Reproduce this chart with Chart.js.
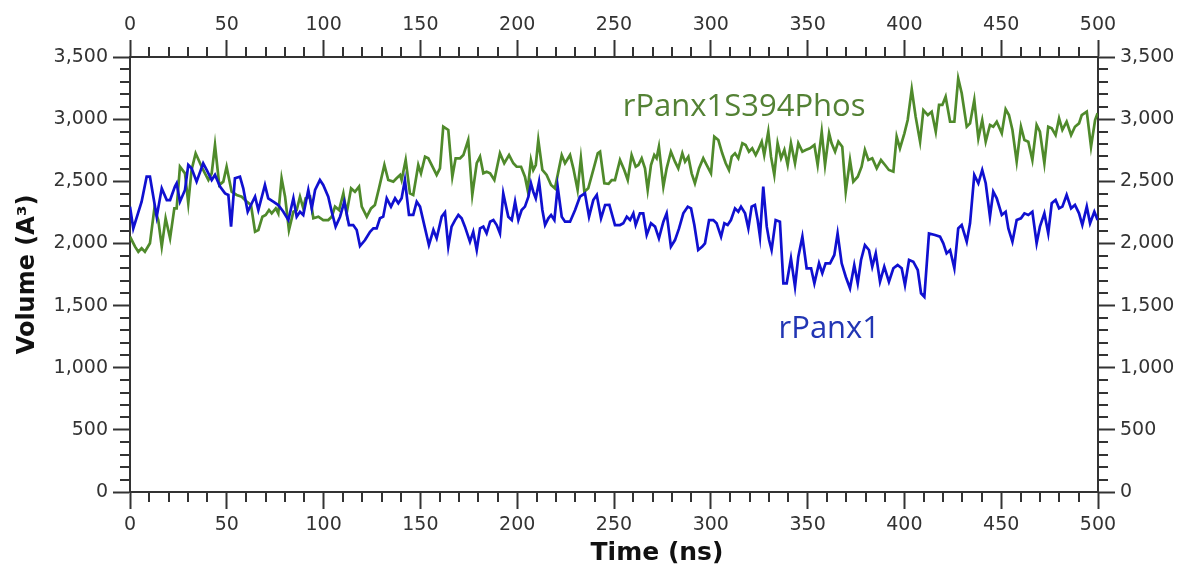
<!DOCTYPE html>
<html>
<head>
<meta charset="utf-8">
<script src="https://cdn.jsdelivr.net/npm/chart.js@4.4.1/dist/chart.umd.min.js"></script>
<style>
  html, body { margin: 0; padding: 0; background: #fff; }
  #wrap { width: 1181px; height: 569px; }
</style>
</head>
<body>
<div id="wrap"><canvas id="volume-chart"></canvas></div>
<script>
// rPanx1 (blue) - time in ns, volume in A^3
const rpanxTime = [0, 1.7, 6, 8.6, 10.3, 13.8, 16.4, 19, 20.7, 23.2, 24.1, 25.8, 28.4, 30.1, 31.8, 34.4, 37.8, 39.6, 42.2, 43.9, 46.5, 49.1, 50.8, 52.2, 54.2, 56.8, 58.5, 60.8, 62.9, 64.6, 66.3, 69.7, 71.4, 74, 76.6, 79.2, 81.8,
  84.4, 86.1, 87.8, 89.5, 92.1, 93.9, 95.6, 98.1, 99.8, 102.4, 104.2, 106.2, 108.5, 110.7, 113.1, 115.3, 117.1, 118.8, 121.4, 124, 125.7, 127.4, 129.1, 130.8, 132.6, 134.8, 136.9, 138.6, 140.3, 142, 144.1, 146.3, 148.1, 149.8, 152.4, 154.4, 156.7, 158.4, 161, 162.7, 164.4,
  166.1, 167.9, 169.6, 171.3, 173, 175.6, 177.3, 179.1, 180.8, 182.5, 184.2, 186, 187.7, 189.4, 191.1, 192.8, 195.4, 197.2, 198.9, 200.6, 202.3, 204, 205.8, 207.1, 208.3, 209.6, 211.3, 213, 214.4, 216.1, 217.5, 219.2, 220.9, 223, 224.7, 227.3, 229.9, 232.4, 235, 237.1, 239.3, 241.1, 243.3, 245.4, 247.6,
  250.5, 253.1, 254.8, 256.6, 258.3, 260, 261.2, 263.4, 265.1, 266.9, 269.1, 271.2, 273.2, 275.5, 277.2, 279.4, 281.5, 283.6, 285.8, 288.1, 289.8, 291.5, 293.5, 295.6, 297, 299.1, 301.3, 303, 305.3, 307, 308.7, 310.4, 312.5, 314.2, 315.6, 317.7, 319.4, 321.1, 322.8, 324.2, 325.4, 327.1, 328.9, 330.1,
  331.4, 333.5, 335.7, 337.5, 339.2, 341.4, 343.5, 345.2, 347.3, 349.5, 351.8, 353.5, 355.9, 357.6, 359.3, 361.6, 363.8, 365.5, 367.6, 369.7, 371.9, 374.1, 375.9, 377.6, 379.6, 381.7, 383.4, 385.2, 387.4, 389.6, 392, 394.3, 396.5, 398.6, 400.3, 402.4, 404.6, 406.9, 408.6, 410.3, 412.7,
  415.8, 418.4, 420.1, 421.8, 423.6, 425.8, 427.8, 429.6, 432.2, 433.9, 436.1, 438.2, 440.2, 442, 444.2, 445.9, 447.7, 450.3, 452.3, 453.7, 455.8, 458, 460.2, 462, 464, 466.1, 468.3, 470, 472.3, 474.3, 476.1, 478.1, 479.9, 481.6, 483.8, 486.1, 488.1, 490.2, 491.9, 494.2, 495.9, 498.1, 499.8];
const rpanxVolume = [2296, 2121, 2336, 2537, 2537, 2215, 2443, 2349, 2349, 2457, 2484, 2336, 2430, 2631, 2604, 2497, 2645, 2591, 2510, 2551, 2457, 2403, 2390, 2135, 2524, 2537, 2443, 2255, 2323, 2376, 2269, 2470, 2363, 2336, 2309, 2255, 2188,
  2363, 2215, 2255, 2229, 2430, 2282, 2430, 2510, 2470, 2376, 2255, 2135, 2215, 2336, 2148, 2148, 2108, 1979, 2027, 2094, 2121, 2121, 2202, 2215, 2363, 2296, 2363, 2323, 2363, 2510, 2229, 2229, 2336, 2296, 2121, 1987, 2108, 2041, 2215, 2250, 1974,
  2135, 2188, 2229, 2202, 2135, 2014, 2094, 1947, 2121, 2135, 2081, 2175, 2188, 2148, 2081, 2403, 2215, 2188, 2336, 2188, 2269, 2296, 2376, 2484, 2416, 2363, 2497, 2269, 2148, 2202, 2229, 2188, 2457, 2215, 2175, 2175, 2269, 2376, 2403, 2215, 2349, 2390, 2202, 2309, 2310,
  2148, 2148, 2162, 2215, 2188, 2242, 2148, 2242, 2242, 2068, 2162, 2135, 2041, 2175, 2242, 1974, 2027, 2121, 2242, 2296, 2282, 2148, 1947, 1974, 2001, 2188, 2188, 2162, 2054, 2162, 2148, 2188, 2282, 2255, 2296, 2242, 2121, 2296, 2309, 2188, 2054, 2457, 2135, 2027,
  1947, 2188, 2175, 1679, 1679, 1880, 1652, 1893, 2054, 1800, 1800, 1679, 1840, 1760, 1840, 1840, 1907, 2081, 1840, 1732, 1639, 1826, 1679, 1867, 1987, 1947, 1813, 1920, 1692, 1813, 1692, 1800, 1826, 1800, 1665, 1867, 1853, 1786, 1599, 1571, 2081,
  2068, 2054, 2001, 1920, 1947, 1800, 2121, 2148, 2014, 2162, 2551, 2484, 2591, 2484, 2215, 2416, 2363, 2229, 2255, 2121, 2014, 2188, 2202, 2242, 2229, 2255, 2001, 2135, 2242, 2081, 2323, 2349, 2282, 2296, 2390, 2282, 2309, 2242, 2148, 2296, 2162, 2255, 2188];

// rPanx1S394Phos (green)
const phosTime = [0, 2.6, 4.3, 6, 7.7, 10.3, 12.6, 14.6, 16.4, 18.4, 20.7, 22.9, 24.1, 25.8, 28.4, 30.1, 31.8, 33.9, 36.2, 37.8, 40.5, 42.2, 43.9, 46.1, 48.2, 49.9, 52.5, 55.1, 57.7, 60.3, 62.5, 64.6, 66.3, 68.4, 70.1, 71.8, 73.2, 75.3, 76.6, 78.3, 80.1, 82.1,
  84.4, 86.1, 87.8, 89.5, 90.7, 93, 94.7, 97.3, 99.8, 102.4, 104.2, 105.9, 108, 110.2, 111.9, 114.2, 116.2, 118.3, 119.7, 122.3, 124.5, 126.5, 128.6, 131.4, 133.4, 136, 137.7, 139.5, 140.3, 142.4, 144.6, 146.3, 148.9, 150.3, 152.4, 154.1, 156.7, 158.4, 160.1, 161.8, 164.4,
  166.5, 168.2, 170.5, 172.2, 174.7, 176.8, 179.1, 180.8, 182.5, 184.2, 186, 188.2, 191.1, 193.3, 195.8, 198, 199.7, 202, 204, 205.4, 207.1, 208.3, 209.6, 210.9, 213, 215.2, 217.5, 219.5, 221.6, 223, 224.7, 227.3, 229, 231.2, 232.9, 234.7, 236.7, 239.3, 241.6, 242.8, 245, 247.2,
  248.8, 250.5, 253.1, 255.3, 257.1, 259.1, 261.2, 262.6, 264.3, 266, 267.4, 269.1, 270.8, 272, 273.2, 275.5, 277.2, 279.4, 281.5, 283.2, 285.3, 286.7, 288.4, 290.1, 291.8, 293.9, 296.1, 297.9, 300.1, 301.8, 303.9, 305.9, 307.7, 309.4, 310.8, 312.5, 314.2, 316.3, 318, 319.7, 321.4, 323.2, 324.5, 326.3, 327.6, 329.7,
  331.1, 332.8, 334.5, 336.3, 338, 339.7, 341.4, 343.5, 345.2, 347.3, 349, 351.2, 353.5, 355.2, 357.3, 359, 361.1, 362.4, 364.2, 365.9, 367.9, 369.7, 371.9, 373.6, 375.9, 377.9, 379.6, 381.4, 383.4, 385.7, 387.9, 390, 392, 394.3, 396, 397.7, 400, 401.7, 403.8, 405.8, 408.1, 409.8, 412.1,
  414.1, 416.2, 417.9, 419.6, 421.3, 423.6, 425.8, 427.8, 429.6, 432.2, 433.9, 436.1, 438.2, 440.2, 442, 444.2, 445.9, 447.7, 450.3, 452.3, 454, 455.8, 458, 460.2, 462, 464, 466.1, 468.3, 470, 472.3, 474.3, 476.1, 478.1, 479.9, 481.6, 483.8, 486.1, 488.1, 490.2, 491.6, 494.2, 496.4, 498.5, 499.8];
const phosVolume = [2054, 1974, 1933, 1961, 1933, 2001, 2282, 2188, 1974, 2202, 2041, 2282, 2282, 2617, 2564, 2323, 2591, 2725, 2645, 2591, 2510, 2564, 2792, 2470, 2497, 2617, 2416, 2390, 2376, 2336, 2309, 2094, 2108, 2215, 2229, 2269, 2242, 2282, 2242, 2524, 2376, 2108,
  2255, 2269, 2376, 2282, 2363, 2376, 2202, 2215, 2188, 2188, 2215, 2296, 2269, 2403, 2242, 2443, 2416, 2457, 2296, 2215, 2282, 2309, 2443, 2631, 2510, 2497, 2524, 2551, 2510, 2671, 2403, 2390, 2631, 2564, 2698, 2685, 2604, 2551, 2604, 2939, 2913,
  2537, 2685, 2685, 2711, 2832, 2390, 2645, 2698, 2564, 2577, 2564, 2510, 2725, 2645, 2711, 2645, 2617, 2617, 2537, 2430, 2671, 2591, 2631, 2832, 2591, 2551, 2470, 2443, 2604, 2711, 2645, 2711, 2604, 2430, 2685, 2416, 2443, 2591, 2725, 2738, 2484, 2480,
  2510, 2510, 2671, 2591, 2510, 2711, 2617, 2631, 2685, 2604, 2430, 2631, 2711, 2685, 2778, 2457, 2604, 2738, 2658, 2604, 2725, 2658, 2698, 2564, 2484, 2604, 2685, 2631, 2564, 2859, 2832, 2725, 2645, 2591, 2698, 2725, 2685, 2806, 2792, 2738, 2765, 2711, 2752, 2819, 2711, 2899,
  2698, 2551, 2806, 2685, 2752, 2631, 2806, 2645, 2806, 2738, 2752, 2765, 2792, 2631, 2899, 2631, 2886, 2806, 2738, 2819, 2778, 2416, 2671, 2497, 2537, 2617, 2752, 2671, 2685, 2604, 2671, 2631, 2591, 2577, 2859, 2765, 2886, 2993, 3240, 3020, 2819, 3073, 3033,
  3060, 2899, 3114, 3114, 3181, 2979, 2979, 3328, 3208, 2939, 2966, 3154, 2846, 2993, 2819, 2953, 2939, 2979, 2886, 3079, 3033, 2913, 2658, 2939, 2832, 2819, 2671, 2953, 2899, 2645, 2939, 2926, 2872, 3006, 2913, 2979, 2872, 2939, 2966, 3033, 3060, 2778, 2993, 3047];

const seriesNames = ["rPanx1", "rPanx1S394Phos"];
const seriesColors = ["#1010d0", "#4f8a2b"];
const labelColors = ["#2236b4", "#548235"];
// where each series name is written, in data units [time, volume]
const labelAnchors = [[335, 1240], [254.5, 3025]];

const tickFont = { family: "DejaVu Sans", size: 19 };
const tickColor = "#333";

const toPoints = (ts, vs) => ts.map((t, i) => ({ x: t, y: vs[i] }));

const minorTicks = {
  id: "minorTicks",
  afterDraw(chart) {
    const { ctx, chartArea, scales } = chart;
    ctx.save();
    ctx.strokeStyle = tickColor;
    ctx.lineWidth = 2;
    ctx.beginPath();
    for (let v = 10; v < 500; v += 10) {
      if (v % 50 === 0) continue;
      const px = Math.round(scales.x.getPixelForValue(v));
      ctx.moveTo(px, chartArea.bottom);
      ctx.lineTo(px, chartArea.bottom + 10);
      ctx.moveTo(px, chartArea.top);
      ctx.lineTo(px, chartArea.top - 10);
    }
    for (let v = 100; v < 3500; v += 100) {
      if (v % 500 === 0) continue;
      const py = Math.round(scales.y.getPixelForValue(v));
      ctx.moveTo(chartArea.left, py);
      ctx.lineTo(chartArea.left - 10, py);
      ctx.moveTo(chartArea.right, py);
      ctx.lineTo(chartArea.right + 10, py);
    }
    ctx.stroke();
    ctx.restore();
  },
};

const textLayer = {
  id: "textLayer",
  afterDatasetsDraw(chart) {
    const { ctx, scales, chartArea } = chart;
    ctx.save();
    ctx.font = "31px 'Open Sans'";
    ctx.textAlign = "left";
    ctx.textBaseline = "alphabetic";
    seriesNames.forEach((name, i) => {
      ctx.fillStyle = labelColors[i];
      ctx.fillText(name, scales.x.getPixelForValue(labelAnchors[i][0]), scales.y.getPixelForValue(labelAnchors[i][1]));
    });
    // x axis title sits a bit right of the plot centre in the original
    ctx.font = "bold 25px 'DejaVu Sans'";
    ctx.textAlign = "center";
    ctx.textBaseline = "middle";
    ctx.fillStyle = "#111";
    ctx.fillText("Time (ns)", (chartArea.left + chartArea.right) / 2 + 43, chart.height - 16);
    ctx.restore();
  },
};

const xAxis = (position, height, pad) => ({
  type: "linear",
  position: position,
  min: 0,
  max: 500,
  afterFit: (scale) => { scale.height = height; },
  border: { display: true, color: tickColor, width: 2 },
  grid: { drawOnChartArea: false, drawTicks: true, tickLength: 17, tickColor: tickColor, tickWidth: 2 },
  ticks: { stepSize: 50, autoSkip: false, maxRotation: 0, padding: pad, color: tickColor, font: tickFont },
});

const yAxis = (position, width) => ({
  type: "linear",
  position: position,
  min: 0,
  max: 3500,
  afterFit: (scale) => { scale.width = width; },
  border: { display: true, color: tickColor, width: 2 },
  grid: { drawOnChartArea: false, drawTicks: true, tickLength: 17, tickColor: tickColor, tickWidth: 2 },
  ticks: { stepSize: 500, padding: 5, color: tickColor, font: tickFont, callback: (v) => v.toLocaleString("en-US") },
});

const ctx = document.getElementById("volume-chart");

const volumeChart = new Chart(ctx, {
  type: "line",
  data: {
    datasets: [
      {
        label: seriesNames[0],
        data: toPoints(rpanxTime, rpanxVolume),
        borderColor: seriesColors[0],
        borderWidth: 2.7,
        pointRadius: 0,
        tension: 0,
      },
      {
        label: seriesNames[1],
        data: toPoints(phosTime, phosVolume),
        borderColor: seriesColors[1],
        borderWidth: 2.7,
        pointRadius: 0,
        tension: 0,
      },
    ],
  },
  options: {
    responsive: true,
    maintainAspectRatio: false,
    animation: false,
    layout: { padding: 0 },
    plugins: { legend: { display: false }, tooltip: { enabled: false } },
    scales: {
      x: xAxis("bottom", 77, 5),
      x2: xAxis("top", 57, 4),
      y: {
        ...yAxis("left", 130),
        title: { display: true, text: "Volume (A³)", color: "#111", font: { family: "DejaVu Sans", size: 24, weight: "bold" }, padding: { top: 13, bottom: 0 } },
      },
      y2: yAxis("right", 83),
    },
  },
  plugins: [minorTicks, textLayer],
});
</script>
</body>
</html>
